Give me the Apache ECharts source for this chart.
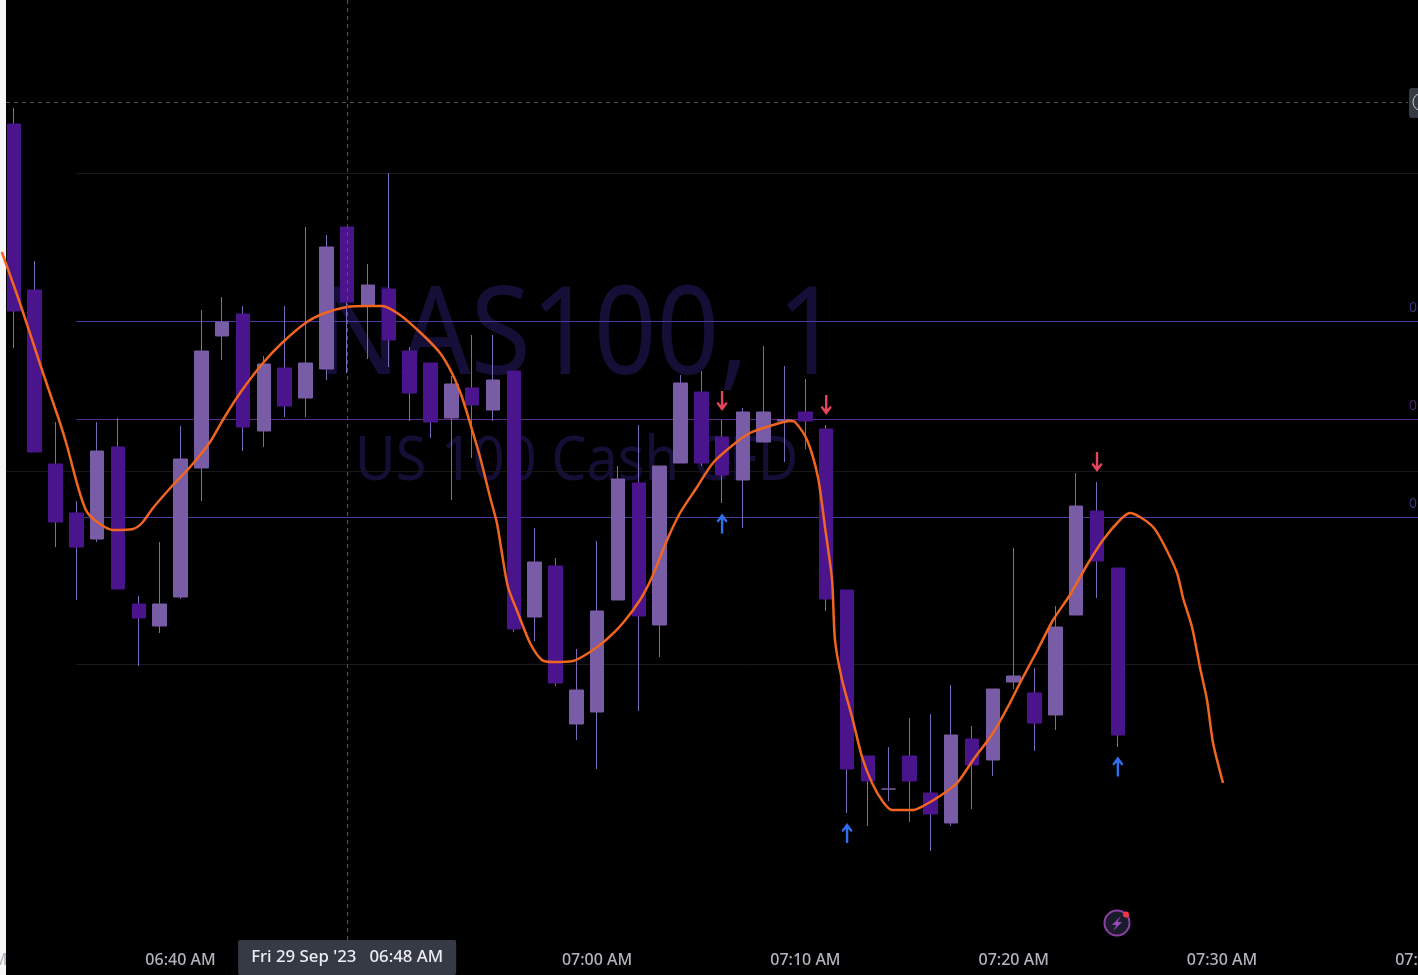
<!DOCTYPE html>
<html lang="en">
<head>
    <meta charset="UTF-8">
    <title>NAS100, 1</title>
    <script src="https://cdn.jsdelivr.net/npm/echarts@6.0.0/dist/echarts.min.js"></script>
    <style>
        html, body { margin: 0; padding: 0; background: #000; overflow: hidden; }
        #chart { width: 1418px; height: 975px; }
    </style>
</head>
<body>
    <div id="chart"></div>
    <script>
        // minutes since midnight, one candle per minute from 06:32
        const minutes = [392,393,394,395,396,397,398,399,400,401,402,403,404,405,406,407,408,409,410,411,412,413,414,415,416,417,418,419,420,421,422,423,424,425,426,427,428,429,430,431,432,433,434,435,436,437,438,439,440,441,442,443,444,445];
        const opens  = [14876,14710,14536,14487,14461,14553,14396,14374,14403,14532,14664,14686,14569,14632,14602,14631,14773,14694,14711,14649,14637,14582,14612,14590,14629,14383,14434,14276,14288,14400,14517,14375,14537,14608,14563,14520,14558,14579,14588,14571,14410,14244,14211,14244,14207,14177,14261,14240,14318,14307,14285,14385,14489,14432];
        const closes = [14689,14548,14478,14453,14549,14411,14382,14396,14541,14649,14678,14573,14636,14594,14637,14753,14698,14715,14660,14607,14578,14616,14595,14620,14371,14438,14317,14310,14389,14521,14384,14534,14617,14537,14525,14588,14588,14580.5,14579,14401,14231,14219,14211,14219,14186,14265,14235,14311,14324,14277,14373,14494,14439,14265];
        const lows   = [14652,14548,14453,14400,14458,14411,14334,14367,14401,14499,14640,14549,14553,14583,14583,14620,14627,14641,14633,14579,14562,14500,14542,14579,14368,14359,14314,14260,14231,14400,14289,14343,14537,14534,14497,14472,14558,14538,14551,14389,14187,14174,14199,14178,14149,14174,14191,14224,14311,14249,14270,14385,14402,14253];
        const highs  = [14892,14739,14578,14499,14578,14582,14404,14458,14574,14690,14703,14694,14644,14694,14773,14765,14773,14736,14827,14653,14637,14624,14665,14665,14629,14472,14442,14351,14459,14534,14575,14534,14625,14629,14580,14592,14654,14634,14621,14575,14410,14244,14253,14282,14286,14315,14274,14311,14452,14332,14394,14527,14518,14432];

        // orange moving average
        const maMinutes = [391.42,392.29,393.40,394.17,394.54,395.08,395.51,396.14,396.76,397.72,398.15,398.68,399.64,400.46,401.42,402.09,402.86,403.96,404.92,406.07,406.94,407.99,408.95,409.67,410.54,411.64,412.46,413.03,413.51,413.90,414.38,414.86,415.19,415.43,415.72,416.20,416.78,417.35,417.88,418.84,419.66,420.48,421.24,422.06,422.64,423.36,423.98,424.80,425.56,426.52,427.34,428.30,429.26,429.50,430.08,430.60,430.94,431.28,431.42,431.76,432.24,432.72,433.20,433.73,434.16,435.17,435.65,436.46,437.28,438.05,439.01,439.82,440.30,441.12,441.89,442.70,443.52,444.29,445.10,445.58,446.06,446.69,447.17,447.84,448.13,448.56,448.94,449.28,449.57,450.05];
        const maValues  = [14748,14697,14627,14580,14555,14513,14488,14476,14470,14471,14477,14492,14515,14533,14558,14582,14607,14637,14658,14678,14687,14693,14694,14694,14685,14665,14647,14627,14603,14577,14543,14503,14477,14447,14413,14387,14357,14340,14338,14339,14348,14361,14377,14400,14423,14460,14487,14513,14537,14555,14567,14574,14579,14578,14560,14523,14473,14420,14360,14320,14283,14243,14217,14198,14190,14190,14194,14204,14217,14240,14267,14297,14317,14349,14380,14405,14435,14460,14480,14487,14483,14473,14457,14427,14402,14373,14333,14300,14257,14217];

        // signal arrows
        const sellMinutes = [426,431,444];
        const sellPrices  = [14599,14595,14538];
        const buyMinutes  = [426,432,445];
        const buyPrices   = [14476.5,14167,14233.5];

        // levels across the chart
        const fibLevels   = [14678.5,14580.5,14482.5];
        const fibLabels   = ['0','0','0'];
        const faintLevels = [14826.5,14335.5];
        const sessionLevel = 14528.5;
        const crosshairPrice = 14897.5;
        const crosshairMinute = 408;

        const tickMinutes = [390,400,410,420,430,440,450,460];
        const crosshairLabel = "Fri 29 Sep '23   06:48 AM";
        const watermarkTitle = 'NAS100, 1';
        const watermarkSubtitle = 'US 100 Cash CFD';

        const DARK = '#4a148c';
        const LIGHT = '#785ca5';
        const WICK = '#7b69b8';
        const FONT = '"Noto Sans", sans-serif';
        const ARROW = 'path://M4.7 20V6L1.4 9.3 0 7.6 6 0 12 7.6 10.6 9.3 7.3 6V20Z';
        const X_MIN = 387.494;
        const X_MAX = 463.25;
        const LINE_START = 395;
        const LEFT_EDGE = 391.62;
        const RIGHT_EDGE = 458.93;

        function fmtTime(m) {
            const h = Math.floor(m / 60);
            const mm = m % 60;
            return String(h).padStart(2, '0') + ':' + String(mm).padStart(2, '0') + ' AM';
        }

        const wickData = minutes.map((m, i) => [m, opens[i], closes[i], lows[i], highs[i]]);
        const bodyData = minutes.map((m, i) => [m, opens[i], closes[i], Math.min(opens[i], closes[i]), Math.max(opens[i], closes[i])]);
        const maData = maMinutes.map((m, i) => [m, maValues[i]]);
        const fibColors = ['#4a3a9c', '#5a2c86', '#4a3a9c'];

        function levelSeries(name, y, from, to, color, dashed) {
            return {
                name: name,
                type: 'line',
                z: 1,
                silent: true,
                showSymbol: false,
                lineStyle: { color: color, width: 1, type: dashed ? [4, 4] : 'solid' },
                data: [[from, y], [to, y]]
            };
        }

        const chart = echarts.init(document.getElementById('chart'));
        chart.setOption({
            animation: false,
            backgroundColor: '#000',
            textStyle: { fontFamily: FONT },
            grid: { left: -80, top: 0, width: 1578, height: 940, outerBoundsMode: 'none' },
            xAxis: {
                type: 'value',
                min: X_MIN,
                max: X_MAX,
                splitLine: { show: false },
                axisLine: { show: false },
                axisTick: { show: false },
                axisLabel: {
                    customValues: tickMinutes,
                    formatter: fmtTime,
                    color: '#b2b5be',
                    fontFamily: FONT,
                    fontSize: 16,
                    fontWeight: 500,
                    margin: 12
                },
                axisPointer: {
                    show: true,
                    status: 'show',
                    value: crosshairMinute,
                    triggerOn: 'none',
                    lineStyle: { color: '#555', width: 1, type: [4, 4] },
                    label: {
                        show: true,
                        formatter: () => crosshairLabel,
                        color: '#eceef2',
                        fontFamily: FONT,
                        fontSize: 16.8,
                        fontWeight: 500,
                        backgroundColor: '#363a45',
                        borderRadius: 2,
                        padding: [9, 13, 9, 13],
                        margin: 0
                    }
                }
            },
            yAxis: {
                type: 'value',
                min: 14060,
                max: 15000,
                show: false
            },
            graphic: { elements: [
                { type: 'rect', z: 0, shape: { x: 0, y: 0, width: 6, height: 975 }, style: { fill: '#f6f6f6' } },
                { type: 'text', z: 0, x: 317, y: 339, scaleX: 0.9, style: { text: watermarkTitle, fill: '#150f38', font: '122px ' + FONT, verticalAlign: 'middle' } },
                { type: 'text', z: 0, x: 355, y: 462, scaleX: 0.9, style: { text: watermarkSubtitle, fill: '#150f38', font: '62px ' + FONT, verticalAlign: 'middle' } },
                // price label stub on the right edge
                { type: 'rect', z: 10, shape: { x: 1409, y: 88, width: 20, height: 30, r: 3 }, style: { fill: '#363a45' } },
                { type: 'circle', z: 11, shape: { cx: 1422, cy: 102, r: 9 }, style: { fill: 'none', stroke: '#c8cad0', lineWidth: 1 } },
                // alert icon
                { type: 'circle', z: 10, shape: { cx: 1117, cy: 923, r: 12.5 }, style: { fill: '#1a1c2b', stroke: '#8e3fa8', lineWidth: 2 } },
                { type: 'polygon', z: 11, shape: { points: [[1121, 916], [1112, 925], [1116.5, 925], [1113, 931], [1122, 922], [1117.5, 922]] }, style: { fill: '#9a4bb8' } },
                { type: 'circle', z: 12, shape: { cx: 1126, cy: 914.5, r: 3 }, style: { fill: '#f23645' } }
            ] },
            series: [
                levelSeries('fib 1', fibLevels[0], LINE_START, X_MAX, fibColors[0]),
                levelSeries('fib 2', fibLevels[1], LINE_START, X_MAX, fibColors[1]),
                levelSeries('fib 3', fibLevels[2], LINE_START, X_MAX, fibColors[2]),
                levelSeries('faint 1', faintLevels[0], LINE_START, X_MAX, '#1b1b1f'),
                levelSeries('faint 2', faintLevels[1], LINE_START, X_MAX, '#1b1b1f'),
                levelSeries('session', sessionLevel, LEFT_EDGE, X_MAX, '#17171a'),
                levelSeries('crosshair', crosshairPrice, LEFT_EDGE, RIGHT_EDGE, '#555', true),
                {
                    name: 'level labels',
                    type: 'scatter',
                    z: 1,
                    silent: true,
                    symbolSize: 0,
                    data: fibLevels.map((y, i) => ({
                        value: [RIGHT_EDGE + 0.05, y + 13],
                        label: {
                            show: true,
                            position: 'right',
                            distance: 0,
                            formatter: fibLabels[i],
                            color: fibColors[i],
                            fontFamily: FONT,
                            fontSize: 14
                        }
                    }))
                },
                {
                    name: 'wicks',
                    type: 'candlestick',
                    z: 2,
                    barWidth: 1,
                    encode: { x: 0, y: [1, 2, 3, 4] },
                    itemStyle: { color: WICK, color0: WICK, borderColor: WICK, borderColor0: WICK, borderColorDoji: WICK, borderWidth: 1 },
                    data: wickData
                },
                {
                    name: 'bodies',
                    type: 'candlestick',
                    z: 3,
                    barWidth: 14,
                    encode: { x: 0, y: [1, 2, 3, 4] },
                    itemStyle: { color: LIGHT, color0: DARK, borderColor: LIGHT, borderColor0: DARK, borderColorDoji: LIGHT, borderWidth: 1 },
                    data: bodyData
                },
                {
                    name: 'MA',
                    type: 'line',
                    z: 4,
                    showSymbol: false,
                    smooth: 0.25,
                    clip: false,
                    lineStyle: { color: '#f0651f', width: 2.5 },
                    data: maData
                },
                {
                    name: 'sell',
                    type: 'scatter',
                    z: 5,
                    symbol: ARROW,
                    symbolSize: [11, 20],
                    symbolRotate: 180,
                    itemStyle: { color: '#e8455c', opacity: 1 },
                    data: sellMinutes.map((m, i) => [m, sellPrices[i]])
                },
                {
                    name: 'buy',
                    type: 'scatter',
                    z: 5,
                    symbol: ARROW,
                    symbolSize: [11, 20],
                    itemStyle: { color: '#2f6fee', opacity: 1 },
                    data: buyMinutes.map((m, i) => [m, buyPrices[i]])
                }
            ]
        });
    </script>
</body>
</html>
